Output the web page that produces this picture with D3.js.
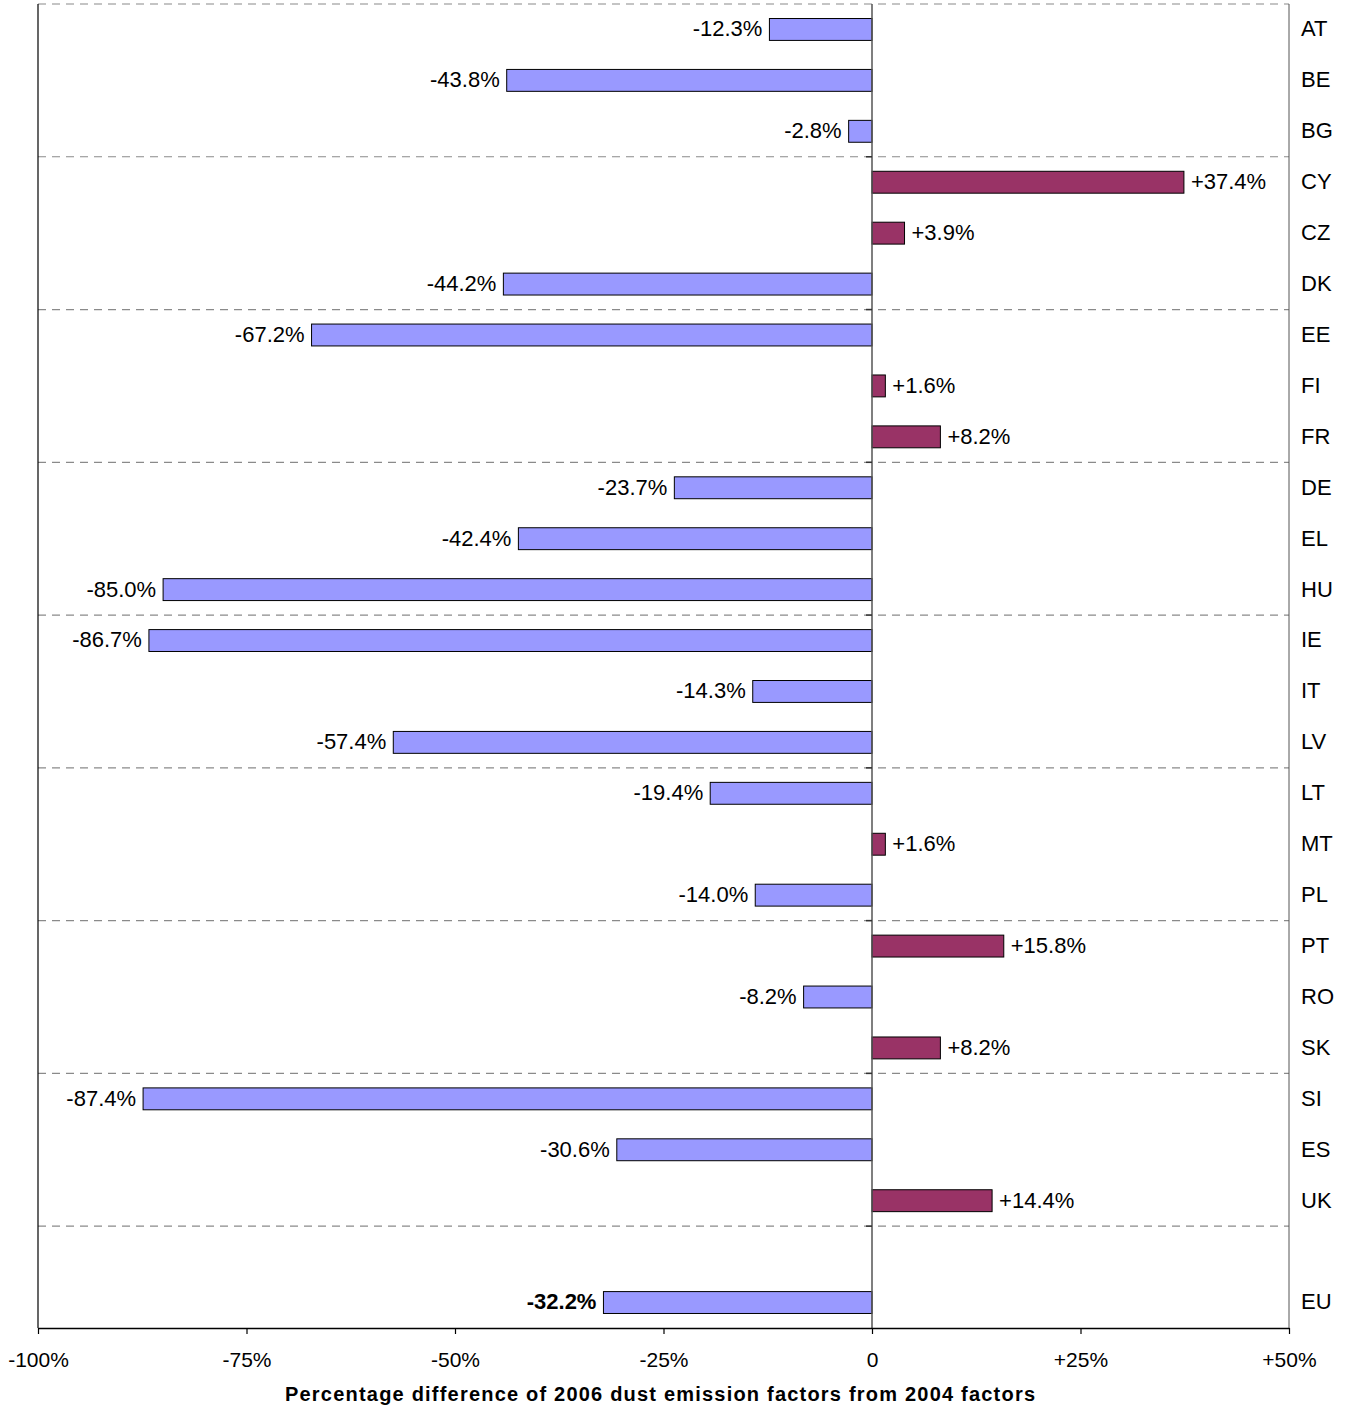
<!DOCTYPE html>
<html>
<head>
<meta charset="utf-8">
<script src="https://cdn.jsdelivr.net/npm/d3@7"></script>
<style>
  body { margin: 0; background: #fff; }
  text { font-family: "Liberation Sans", Arial, sans-serif; }
</style>
</head>
<body>
<svg id="chart" width="1348" height="1406"></svg>
<script>
const categories = ["AT","BE","BG","CY","CZ","DK","EE","FI","FR","DE","EL","HU","IE","IT","LV","LT","MT","PL","PT","RO","SK","SI","ES","UK","","EU"];
const values = [-12.3,-43.8,-2.8,37.4,3.9,-44.2,-67.2,1.6,8.2,-23.7,-42.4,-85.0,-86.7,-14.3,-57.4,-19.4,1.6,-14.0,15.8,-8.2,8.2,-87.4,-30.6,14.4,null,-32.2];
const tickValues = [-100,-75,-50,-25,0,25,50];
const tickLabels = ["-100%","-75%","-50%","-25%","0","+25%","+50%"];
const axisTitle = "Percentage difference of 2006 dust emission factors from 2004 factors";

(function () {
const svg = d3.select("#chart");
const pL = 38, pR = 1289, pT = 4, pB = 1328;

const keys = categories.map((c, i) => i);
const x = d3.scaleLinear().domain([-100, 50]).range([pL, pR]);
const y = d3.scaleBand().domain(keys).range([pT, pB]).paddingInner(0.57).paddingOuter(0.285);
const step = y.step();

const data = categories.map((c, i) => ({ key: i, cat: c, v: values[i] }));

// separators every 3 categories (dashed), including top border
const sepIdx = d3.range(0, 25, 3);
svg.append("g").selectAll("line").data(sepIdx).join("line")
  .attr("x1", pL).attr("x2", pR)
  .attr("y1", d => pT + d * step).attr("y2", d => pT + d * step)
  .attr("stroke", "#8a8a8a").attr("stroke-width", 1.2)
  .attr("stroke-dasharray", "8,6");

// right border
svg.append("line").attr("x1", pR).attr("x2", pR).attr("y1", pT).attr("y2", pB)
  .attr("stroke", "#555").attr("stroke-width", 1);

// bars
svg.append("g").selectAll("rect").data(data.filter(d => d.v !== null)).join("rect")
  .attr("x", d => x(Math.min(0, d.v)))
  .attr("width", d => Math.abs(x(d.v) - x(0)))
  .attr("y", d => y(d.key))
  .attr("height", y.bandwidth())
  .attr("fill", d => d.v < 0 ? "#9999FF" : "#993366")
  .attr("stroke", "#000").attr("stroke-width", 1);

// zero line
svg.append("line").attr("x1", x(0)).attr("x2", x(0)).attr("y1", pT).attr("y2", pB)
  .attr("stroke", "#555").attr("stroke-width", 1.5);
// ticks on zero line at separators
svg.append("g").selectAll("line").data(sepIdx.slice(1)).join("line")
  .attr("x1", x(0) - 6).attr("x2", x(0))
  .attr("y1", d => pT + d * step).attr("y2", d => pT + d * step)
  .attr("stroke", "#333").attr("stroke-width", 1.5);

// left border
svg.append("line").attr("x1", pL).attr("x2", pL).attr("y1", pT).attr("y2", pB)
  .attr("stroke", "#000").attr("stroke-width", 1.2);

// value labels
svg.append("g").selectAll("text").data(data.filter(d => d.v !== null)).join("text")
  .attr("x", d => d.v < 0 ? x(d.v) - 7 : x(d.v) + 7)
  .attr("y", d => y(d.key) + y.bandwidth() / 2 - 1)
  .attr("dy", "0.36em")
  .attr("text-anchor", d => d.v < 0 ? "end" : "start")
  .attr("font-size", 22)
  .attr("font-weight", d => d.cat === "EU" ? "bold" : "normal")
  .text(d => (d.v > 0 ? "+" : "") + d.v.toFixed(1) + "%");

// category labels on right
svg.append("g").selectAll("text").data(data).join("text")
  .attr("x", pR + 12)
  .attr("y", d => y(d.key) + y.bandwidth() / 2 - 1)
  .attr("dy", "0.36em")
  .attr("font-size", 22)
  .text(d => d.cat);

// bottom axis
const xAxis = d3.axisBottom(x).tickValues(tickValues)
  .tickFormat((d, i) => tickLabels[i]).tickSize(6).tickSizeOuter(0).tickPadding(18);
const ax = svg.append("g").attr("transform", `translate(0,${pB})`).call(xAxis);
ax.select(".domain").attr("stroke", "#000").attr("stroke-width", 1.5);
ax.selectAll(".tick line").attr("stroke", "#000").attr("stroke-width", 1.2);
ax.selectAll(".tick text").attr("font-size", 21).attr("font-family", "Liberation Sans, Arial, sans-serif").attr("fill", "#000");

// axis title
svg.append("text").attr("x", 660).attr("y", 1401)
  .attr("text-anchor", "middle").attr("font-size", 20).attr("font-weight", "bold")
  .attr("textLength", 750).attr("lengthAdjust", "spacing")
  .text(axisTitle);
})();
</script>
</body>
</html>
